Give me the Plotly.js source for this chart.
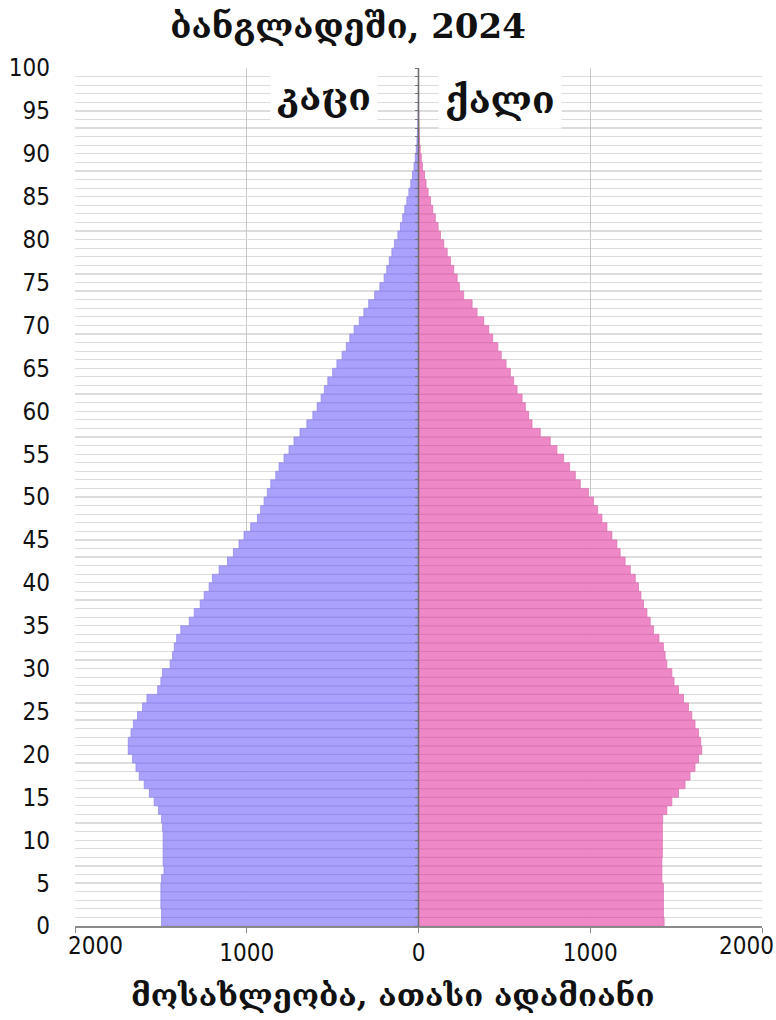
<!DOCTYPE html>
<html>
<head>
<meta charset="utf-8">
<script src="https://cdn.plot.ly/plotly-3.0.1.min.js"></script>
<style>
  html, body { margin: 0; padding: 0; background: #fff; }
  #chart { width: 776px; height: 1020px; }
</style>
</head>
<body>
<div id="chart"></div>
<script>
// Ages 0..99 (one bar per single year of age)
const ages = Array.from({length: 100}, (_, i) => i);

// Population, thousands — men (კაცი)
const male = [
  1496, 1496, 1500, 1500, 1500, 1496, 1482, 1487, 1487, 1487,
  1487, 1490, 1496, 1514, 1539, 1567, 1597, 1626, 1645, 1665,
  1690, 1690, 1674, 1660, 1636, 1607, 1581, 1519, 1500, 1490,
  1446, 1432, 1422, 1408, 1384, 1335, 1306, 1271, 1248, 1219,
  1200, 1161, 1112, 1078, 1045, 1016, 977, 938, 919, 899,
  880, 860, 831, 812, 783, 754, 725, 690, 650, 615,
  590, 567, 548, 528, 500, 475, 445, 420, 400, 375,
  345, 318, 290, 255, 225, 200, 185, 170, 155, 140,
  120, 105, 92, 80, 68, 56, 45, 35, 26, 19,
  13, 9, 6, 4, 3, 2, 1, 1, 0.5, 0.3
];

// Population, thousands — women (ქალი)
const female = [
  1430, 1426, 1426, 1426, 1426, 1417, 1417, 1417, 1420, 1420,
  1420, 1420, 1422, 1446, 1475, 1514, 1552, 1581, 1610, 1630,
  1649, 1643, 1630, 1610, 1591, 1572, 1543, 1514, 1488, 1475,
  1446, 1436, 1426, 1400, 1368, 1349, 1330, 1310, 1295, 1281,
  1262, 1233, 1203, 1174, 1155, 1126, 1097, 1068, 1043, 1019,
  990, 942, 913, 880, 845, 806, 767, 709, 661, 641,
  622, 603, 574, 554, 535, 510, 482, 462, 432, 409,
  380, 341, 312, 263, 238, 225, 205, 186, 167, 147,
  128, 114, 98, 83, 70, 56, 44, 35, 23, 16,
  10, 6, 4, 3, 2, 1, 1, 0.5, 0.3, 0.2
];

const yTickVals = [0, 5, 10, 15, 20, 25, 30, 35, 40, 45, 50, 55, 60, 65, 70, 75, 80, 85, 90, 95, 100];
const xTickVals = [-2000, -1000, 0, 1000, 2000];
const xTickText = ['2000', '1000', '0', '1000', '2000'];

const titleText = 'ბანგლადეში, 2024';
const maleLabel = 'კაცი';
const femaleLabel = 'ქალი';
const xTitleText = 'მოსახლეობა, ათასი ადამიანი';

const geoFont = 'DejaVu Serif, DejaVu Sans, serif';
const tickFont = {family: 'Liberation Sans Narrow, DejaVu Sans Condensed, Roboto, sans-serif', size: 24, color: '#111'};

const yCenters = ages.map(a => a + 0.5);

// plot-area geometry (pixels) used only to place the text annotations
const plotL = 75, plotR = 762, plotT = 68, plotB = 926;
const px = x => (x - plotL) / (plotR - plotL);
const py = y => (plotB - y) / (plotB - plotT);

const traces = [
  {
    type: 'bar', orientation: 'h', name: maleLabel,
    y: yCenters, x: male.map(v => -v), width: 1,
    marker: {color: '#a9a1fb', line: {color: '#8e85e6', width: 0.7}},
    hoverinfo: 'skip'
  },
  {
    type: 'bar', orientation: 'h', name: femaleLabel,
    y: yCenters, x: female, width: 1,
    marker: {color: '#ef88c6', line: {color: '#d670ad', width: 0.7}},
    hoverinfo: 'skip'
  },
  {
    type: 'scatter', mode: 'markers', x: [0], y: [0], yaxis: 'y2',
    marker: {opacity: 0}, hoverinfo: 'skip', showlegend: false
  }
];

// edge tick labels are nudged inward as in the original
const edgeLabels = [
  {text: xTickText[0], x: px(95)},
  {text: xTickText[4], x: px(746)}
].map(e => ({
  text: e.text, xref: 'paper', yref: 'paper', x: e.x, y: py(946),
  xanchor: 'center', yanchor: 'middle', showarrow: false, font: tickFont
}));

const layout = {
  width: 776, height: 1020,
  margin: {l: plotL, r: 776 - plotR, t: plotT, b: 1020 - plotB},
  paper_bgcolor: '#fff', plot_bgcolor: '#fff',
  showlegend: false,
  barmode: 'overlay',
  title: {
    text: titleText, xref: 'container', yref: 'container',
    x: 348 / 776, xanchor: 'center', y: 1 - 26 / 1020, yanchor: 'middle',
    font: {family: geoFont, size: 34, color: '#111', weight: 700}
  },
  xaxis: {
    range: [-2000, 2000], tickvals: xTickVals,
    ticktext: xTickText.map((t, i) => (i === 0 || i === xTickText.length - 1) ? '' : t),
    tickfont: tickFont,
    ticks: 'outside', ticklen: 5, tickcolor: '#888',
    showgrid: true, gridcolor: '#c8c8c8', gridwidth: 1,
    zeroline: false,
    showline: true, linecolor: '#8a8a8a', linewidth: 1.5,
    fixedrange: true
  },
  yaxis: {
    range: [0, 100], tickvals: yTickVals, ticktext: yTickVals.map(String),
    tickfont: tickFont, ticks: '', ticklabelstandoff: 24,
    showgrid: true, gridcolor: '#dcdcdc', gridwidth: 1.2,
    minor: {dtick: 1, tick0: 0, showgrid: true, gridcolor: '#dcdcdc', gridwidth: 1.2, ticks: ''},
    zeroline: false, showline: false, fixedrange: true
  },
  yaxis2: {
    overlaying: 'y', anchor: 'free', position: 0.5, side: 'left',
    range: [0, 100], dtick: 1, tick0: 0, ticks: 'outside', ticklen: 4,
    tickcolor: '#777', tickwidth: 1, showticklabels: false,
    showgrid: false, zeroline: false, showline: false,
    layer: 'above traces', fixedrange: true
  },
  shapes: [
    {
      type: 'line', xref: 'x', yref: 'paper', x0: 0, x1: 0, y0: 0, y1: 1,
      line: {color: '#6e6e6e', width: 1.5}, layer: 'above'
    }
  ],
  annotations: [
    {
      text: maleLabel, xref: 'paper', yref: 'paper',
      x: px(324), y: py(97), xanchor: 'center', yanchor: 'middle',
      showarrow: false, bgcolor: '#fff', borderpad: 6,
      font: {family: geoFont, size: 37, color: '#111', weight: 700}
    },
    {
      text: femaleLabel, xref: 'paper', yref: 'paper',
      x: px(500), y: py(100), xanchor: 'center', yanchor: 'middle',
      showarrow: false, bgcolor: '#fff', borderpad: 6,
      font: {family: geoFont, size: 37, color: '#111', weight: 700}
    },
    {
      text: xTitleText, xref: 'paper', yref: 'paper',
      x: px(392), y: py(995), xanchor: 'center', yanchor: 'middle',
      showarrow: false, font: {family: geoFont, size: 31, color: '#111', weight: 700}
    }
  ].concat(edgeLabels)
};

Plotly.newPlot('chart', traces, layout, {displayModeBar: false, staticPlot: true});
</script>
</body>
</html>
